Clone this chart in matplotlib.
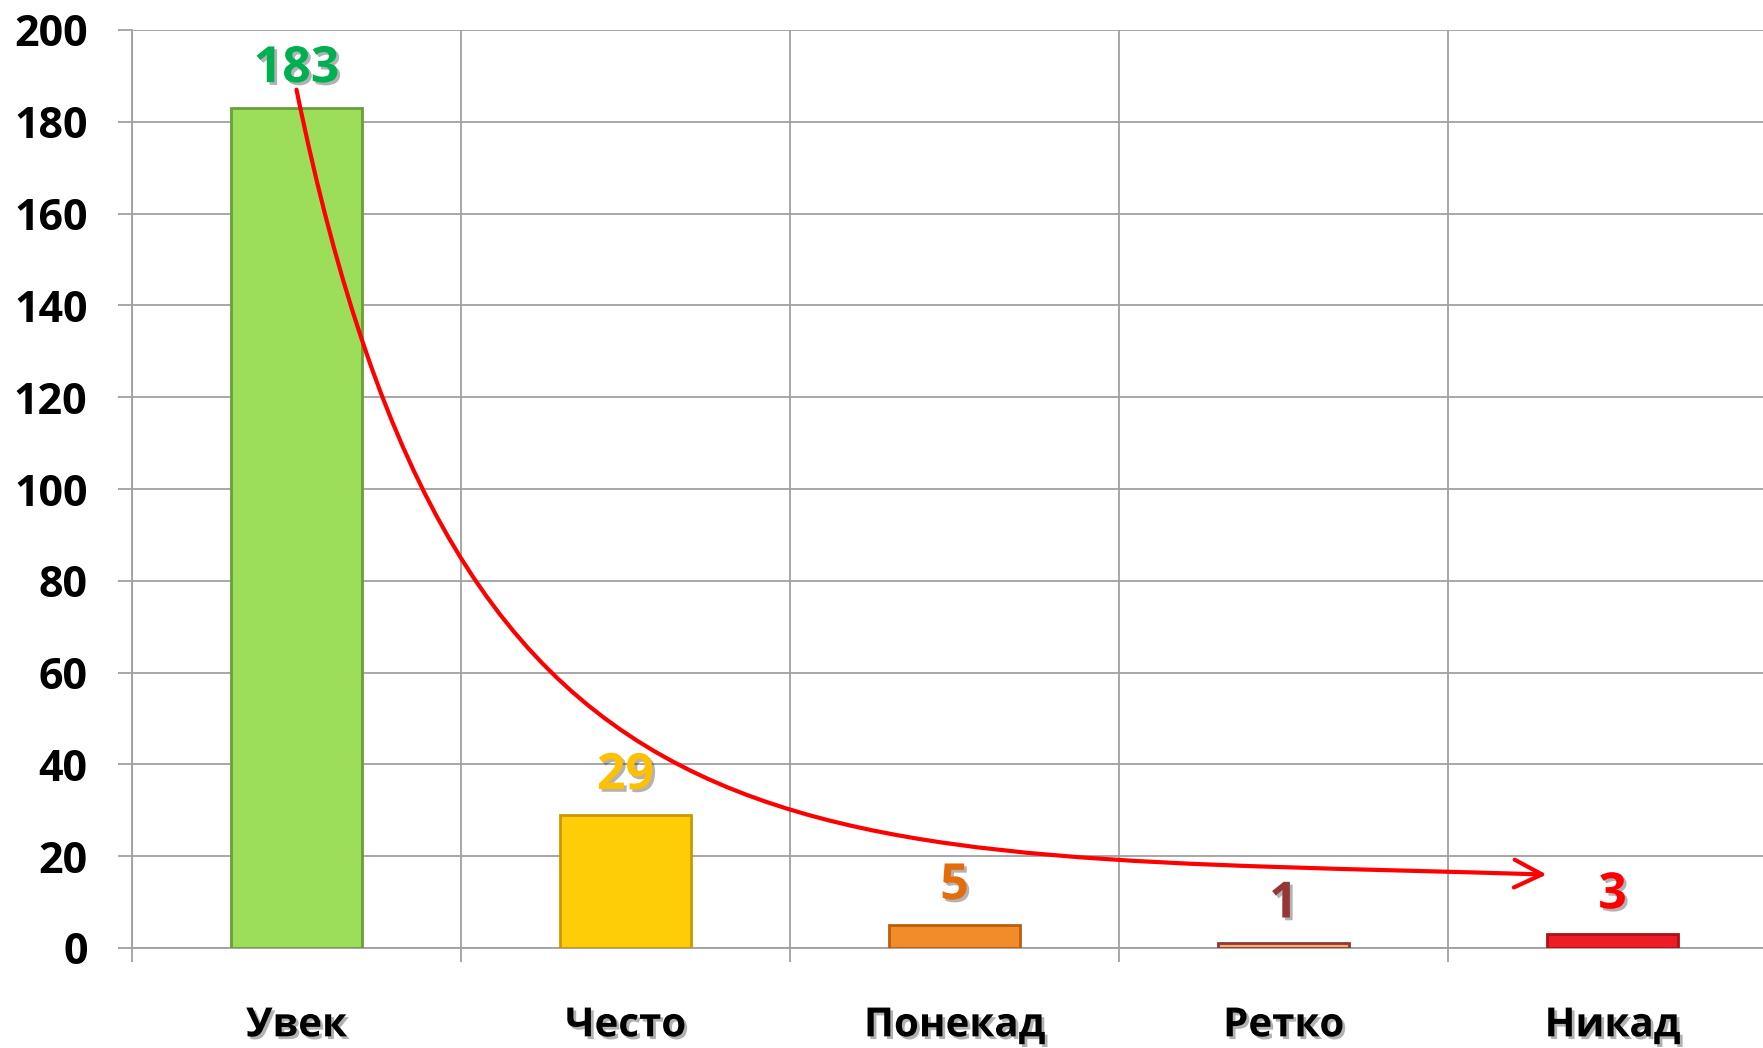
import matplotlib
matplotlib.use("Agg")
import matplotlib.pyplot as plt
import matplotlib.patheffects as pe
from matplotlib.path import Path
from matplotlib.patches import FancyArrowPatch

# answers: always / often / sometimes / rarely / never
categories = ["Увек", "Често", "Понекад", "Ретко", "Никад"]
counts = [183, 29, 5, 1, 3]
bar_colors = ["#9cde5a", "#ffcc08", "#f28c28", "#f8b06a", "#ee1c25"]
edge_colors = ["#6a9e3a", "#c79a00", "#b8600e", "#8b3a3a", "#b01015"]
label_colors = ["#00b050", "#ffc000", "#e46c0a", "#953735", "#ff0000"]
yticks = [0, 20, 40, 60, 80, 100, 120, 140, 160, 180, 200]

# trend arrow drawn over the bars (bezier anchor + control points, data units)
arrow_pts = [(0.0, 187), (0.5, 12), (1.5, 21), (3.8, 16)]

FONT = "Open Sans"
shadow = [pe.SimplePatchShadow(offset=(2, -2), shadow_rgbFace="k", alpha=0.3), pe.Normal()]

fig = plt.figure(figsize=(17.63, 10.48), dpi=100)
ax = fig.add_axes([132 / 1763, 100 / 1048, 1645 / 1763, 918 / 1048])

x = range(len(categories))
ax.bar(x, counts, width=0.4, color=bar_colors, edgecolor=edge_colors, linewidth=2, zorder=3)

for i, v in enumerate(counts):
    ax.annotate(str(v), (i, v), xytext=(0, 28), textcoords="offset points",
                ha="center", va="center", fontsize=36, fontweight="bold",
                family=FONT, color=label_colors[i], path_effects=shadow, zorder=5)

ax.set_xlim(-0.5, len(categories) - 0.5)
ax.set_ylim(0, 200)
ax.set_yticks(yticks)
ax.set_yticklabels([str(t) for t in yticks], fontsize=31, fontweight="bold", family=FONT)

# category boundaries carry the grid, names sit on minor ticks
ax.set_xticks([i - 0.5 for i in range(len(categories) + 1)])
ax.set_xticklabels([])
ax.set_xticks(list(x), minor=True)
ax.set_xticklabels(categories, minor=True, fontsize=29, fontweight="bold", family=FONT)
for lab in ax.get_xticklabels(minor=True):
    lab.set_path_effects(shadow)

ax.tick_params(axis="both", which="major", direction="out", length=10, width=1.3, color="#a0a0a0")
ax.tick_params(axis="y", pad=22)
ax.tick_params(axis="x", which="minor", length=0, pad=42)
ax.grid(True, color="#a0a0a0", linewidth=1.3, zorder=0)
ax.set_axisbelow(True)
for s in ["top", "right"]:
    ax.spines[s].set_visible(False)
for s in ["left", "bottom"]:
    ax.spines[s].set_color("#a0a0a0")
    ax.spines[s].set_linewidth(1.3)

path = Path(arrow_pts, [Path.MOVETO, Path.CURVE4, Path.CURVE4, Path.CURVE4])
arrow = FancyArrowPatch(path=path, arrowstyle="->,head_length=1.0,head_width=0.5",
                        mutation_scale=20, color="#ff0000", linewidth=3, zorder=4)
ax.add_patch(arrow)

fig.savefig("out.png", dpi=100)
